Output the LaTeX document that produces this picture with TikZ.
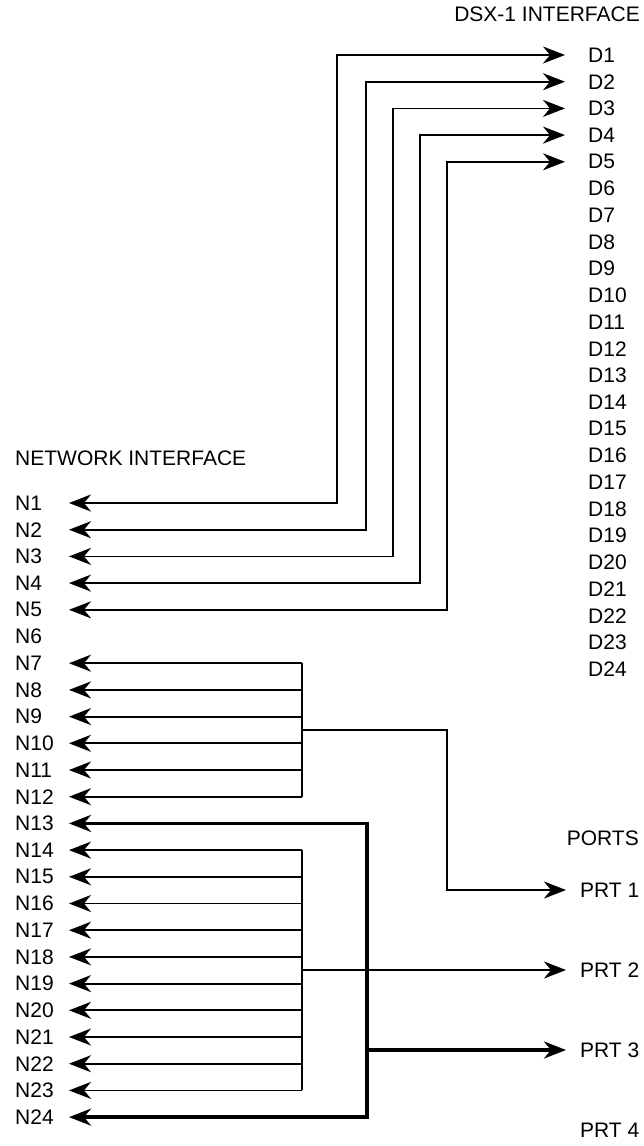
\documentclass[tikz,border=0pt]{standalone}
\usepackage{fontspec}
\setmainfont{Liberation Sans}
\usetikzlibrary{arrows.meta}
\begin{document}
\begin{tikzpicture}[x=1pt, y=-1pt,
  >={Stealth[length=22pt, width=17pt, inset=7pt]},
  lbl/.style={anchor=west, inner sep=0pt, font=\fontsize{21}{25}\selectfont},
  wire/.style={line width=1.8pt},
  heavy/.style={line width=3.4pt},
]
  \useasboundingbox (0,0) rectangle (643,1146);
  \node[lbl, anchor=east] (dsx) at (640,14) {DSX-1 INTERFACE};
  \node[lbl] (net) at (15,458) {NETWORK INTERFACE};
  \node[lbl, anchor=east] (ports) at (639,838) {PORTS};
  \foreach \i in {1,...,24} {
    \node[lbl] (D\i) at (588,{55+(\i-1)*26.7}) {D\i};
    \coordinate (d\i) at (565,{55+(\i-1)*26.7});
    \node[lbl] (N\i) at (15,{503+(\i-1)*26.7}) {N\i};
    \coordinate (n\i) at (69,{503+(\i-1)*26.7});
  }
  \foreach \i/\y in {1/890,2/970,3/1050,4/1130} {
    \node[lbl] (PRT\i) at (580,\y) {PRT \i};
    \coordinate (p\i) at (566,\y);
  }
  \coordinate (busx) at (302,0);
  \coordinate (tbus) at (367,0);
  \coordinate (col1) at (447,0);
  \foreach \i/\x in {1/337,2/366,3/393,4/420,5/447} {
    \coordinate (v\i) at (\x,0);
    \draw[wire, <->] (n\i) -| (d\i -| v\i) -- (d\i);
  }
  \draw[wire] (n7 -| busx) -- (n12 -| busx);
  \foreach \i in {7,...,12}
    \draw[wire, ->] (n\i -| busx) -- (n\i);
  \coordinate (j1) at (302,730);
  \draw[wire, ->] (j1) -| (p1 -| col1) -- (p1);
  \draw[wire] (n14 -| busx) -- (n23 -| busx);
  \foreach \i in {14,...,23}
    \draw[wire, ->] (n\i -| busx) -- (n\i);
  \draw[wire, ->] (p2 -| busx) -- (p2);
  \draw[heavy, <->] (n13) -| (n24 -| tbus) -- (n24);
  \draw[heavy, ->] (p3 -| tbus) -- (p3);
\end{tikzpicture}
\end{document}
